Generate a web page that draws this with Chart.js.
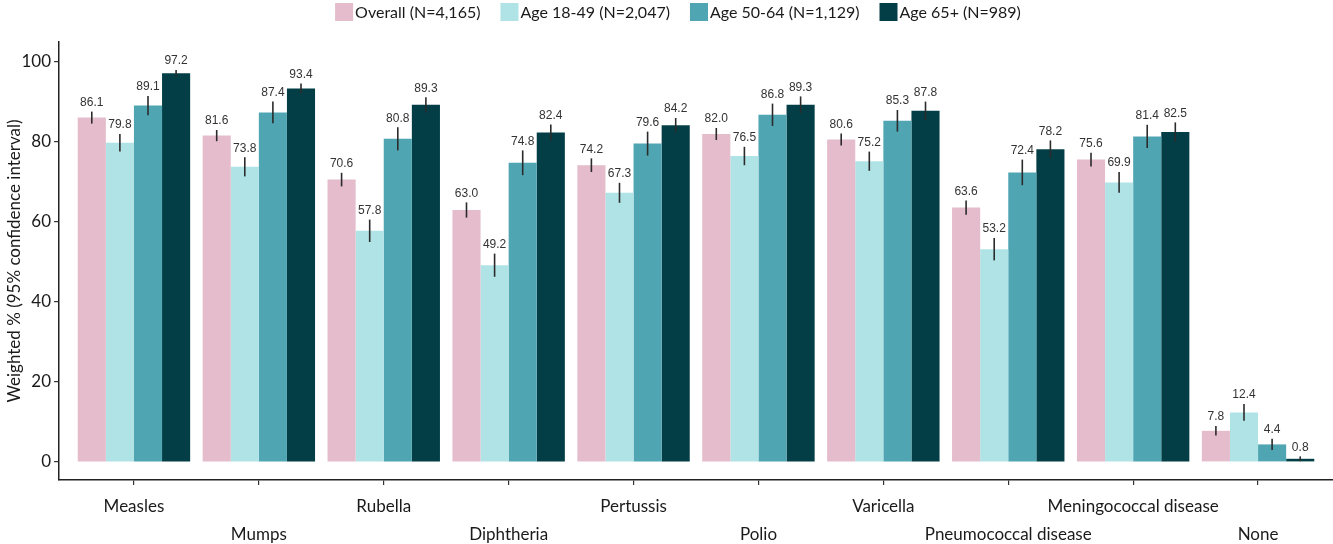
<!DOCTYPE html>
<html>
<head>
<meta charset="utf-8">
<script src="https://cdn.jsdelivr.net/npm/chart.js@4.4.1/dist/chart.umd.min.js"></script>
<style>
  html, body { margin: 0; padding: 0; background: #fff; }
  #wrap { width: 1333px; height: 544px; }
</style>
</head>
<body>
<div id="wrap"><canvas id="c" width="1333" height="544"></canvas></div>
<script>
// Vaccines asked about, one group of bars each
const categories = ['Measles', 'Mumps', 'Rubella', 'Diphtheria', 'Pertussis', 'Polio',
  'Varicella', 'Pneumococcal disease', 'Meningococcal disease', 'None'];

// Weighted percentages by group
const overall   = [86.1, 81.6, 70.6, 63.0, 74.2, 82.0, 80.6, 63.6, 75.6, 7.8];
const age18to49 = [79.8, 73.8, 57.8, 49.2, 67.3, 76.5, 75.2, 53.2, 69.9, 12.4];
const age50to64 = [89.1, 87.4, 80.8, 74.8, 79.6, 86.8, 85.3, 72.4, 81.4, 4.4];
const age65plus = [97.2, 93.4, 89.3, 82.4, 84.2, 89.3, 87.8, 78.2, 82.5, 0.8];

// 95% confidence interval bounds
const overallLow   = [84.6, 80.2, 68.9, 61.1, 72.5, 80.5, 79.1, 61.8, 73.9, 6.6];
const overallHigh  = [87.6, 83.0, 72.3, 64.9, 75.9, 83.5, 82.1, 65.4, 77.3, 9.0];
const age18to49Low  = [77.6, 71.4, 55.0, 46.3, 64.8, 74.2, 72.8, 50.4, 67.3, 10.3];
const age18to49High = [82.0, 76.2, 60.6, 52.1, 69.8, 78.8, 77.6, 56.0, 72.5, 14.5];
const age50to64Low  = [86.7, 84.7, 77.9, 71.7, 76.6, 84.0, 82.6, 69.2, 78.5, 3.0];
const age50to64High = [91.5, 90.1, 83.7, 77.9, 82.6, 89.6, 88.0, 75.6, 84.3, 5.8];
const age65plusLow  = [96.4, 92.2, 87.4, 80.4, 82.4, 87.2, 85.5, 76.0, 80.1, 0.2];
const age65plusHigh = [98.0, 94.6, 91.2, 84.4, 86.0, 91.4, 90.1, 80.4, 84.9, 1.4];

const seriesLabels = ['Overall (N=4,165)', 'Age 18-49 (N=2,047)', 'Age 50-64 (N=1,129)', 'Age 65+ (N=989)'];
const yTicks = [0, 20, 40, 60, 80, 100];

const colors = ['#E4BCCB', '#B0E3E6', '#50A5B3', '#033E46'];
const seriesValues = [overall, age18to49, age50to64, age65plus];
const seriesLow = [overallLow, age18to49Low, age50to64Low, age65plusLow];
const seriesHigh = [overallHigh, age18to49High, age50to64High, age65plusHigh];

const sansFont = 'Lato, "Open Sans", sans-serif';
const valueFont = '"Liberation Sans", Arial, sans-serif';

// Vertical CI whiskers plus the value printed above each one
const errorBars = {
  id: 'errorBars',
  afterDatasetsDraw(chart) {
    const ctx = chart.ctx;
    const y = chart.scales.y;
    ctx.save();
    chart.data.datasets.forEach((ds, i) => {
      const meta = chart.getDatasetMeta(i);
      meta.data.forEach((bar, j) => {
        const yLo = y.getPixelForValue(seriesLow[i][j]);
        const yHi = y.getPixelForValue(seriesHigh[i][j]);
        ctx.strokeStyle = '#2b2b2b';
        ctx.lineWidth = 1.6;
        ctx.beginPath();
        ctx.moveTo(bar.x, yLo);
        ctx.lineTo(bar.x, yHi);
        ctx.stroke();
        ctx.fillStyle = '#333';
        ctx.font = '12px ' + valueFont;
        ctx.textAlign = 'center';
        ctx.textBaseline = 'bottom';
        ctx.fillText(seriesValues[i][j].toFixed(1), bar.x, yHi - 3);
      });
    });
    ctx.restore();
  }
};

// Single-row legend across the top: square swatch, then label
const topLegend = {
  id: 'topLegend',
  afterDraw(chart) {
    const ctx = chart.ctx;
    const box = 18, textGap = 2, itemGap = 20, centerX = 678, midY = 12;
    ctx.save();
    ctx.font = '16px ' + sansFont;
    const items = chart.data.datasets.map(ds => ({
      label: ds.label, color: ds.backgroundColor, w: ctx.measureText(ds.label).width
    }));
    const total = items.reduce((s, it) => s + box + textGap + it.w, 0) + itemGap * (items.length - 1);
    let x = centerX - total / 2;
    ctx.textBaseline = 'middle';
    ctx.textAlign = 'left';
    items.forEach(it => {
      ctx.fillStyle = it.color;
      ctx.fillRect(x, midY - box / 2, box, box);
      x += box + textGap;
      ctx.fillStyle = '#1a1a1a';
      ctx.fillText(it.label, x, midY + 1);
      x += it.w + itemGap;
    });
    ctx.restore();
  }
};

new Chart(document.getElementById('c'), {
  type: 'bar',
  data: {
    datasets: seriesValues.map((vals, i) => ({
      label: seriesLabels[i],
      data: vals.map((v, k) => ({ x: k, y: v })),
      backgroundColor: colors[i],
      borderWidth: 0,
      barPercentage: 1.0,
      categoryPercentage: 0.9
    }))
  },
  options: {
    responsive: false,
    animation: false,
    layout: { padding: { top: 42, right: 0, left: 0, bottom: 0 } },
    plugins: {
      tooltip: { enabled: false },
      legend: { display: false }
    },
    scales: {
      x: {
        type: 'linear',
        offset: false,
        min: -0.6,
        max: 9.6,
        afterBuildTicks: s => { s.ticks = categories.map((c, i) => ({ value: i })); },
        afterFit: s => { s.height = 64; },
        grid: { display: true, offset: false, drawOnChartArea: false, drawTicks: true, tickLength: 5, color: '#333', lineWidth: 1.2 },
        border: { display: true, color: '#222', width: 1.5 },
        ticks: {
          autoSkip: false,
          maxRotation: 0,
          padding: 7,
          color: '#1a1a1a',
          font: { family: sansFont, size: 17, lineHeight: 1.65 },
          callback: v => (v % 2 === 0 ? categories[v] : ['', categories[v]])
        }
      },
      y: {
        min: -4.5,
        max: 105,
        afterBuildTicks: s => { s.ticks = yTicks.map(v => ({ value: v })); },
        afterFit: s => { s.width = 59; },
        grid: { display: true, drawOnChartArea: false, drawTicks: true, tickLength: 5, color: '#333', lineWidth: 1.2 },
        border: { display: true, color: '#222', width: 1.5 },
        ticks: {
          padding: 3,
          color: '#1a1a1a',
          font: { family: sansFont, size: 17 }
        },
        title: {
          display: true,
          text: 'Weighted % (95% confidence interval)',
          color: '#1a1a1a',
          font: { family: sansFont, size: 17 },
          padding: { top: 4, bottom: 2 }
        }
      }
    }
  },
  plugins: [errorBars, topLegend]
});
</script>
</body>
</html>
